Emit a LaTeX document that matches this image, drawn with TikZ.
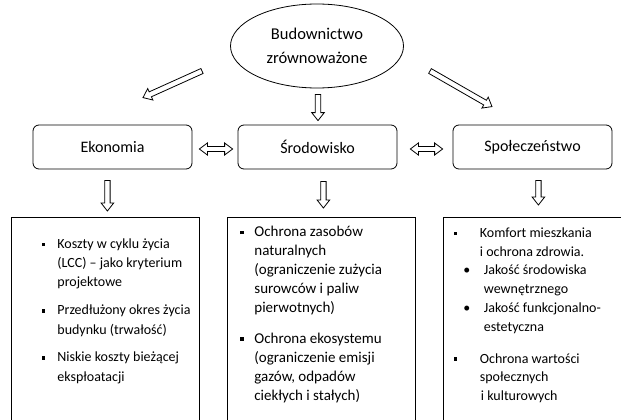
\documentclass[tikz,border=0pt]{standalone}
\usepackage{fontspec}
\setmainfont{Carlito}
\usetikzlibrary{calc,shapes.geometric}

\newcommand{\sqbul}[1]{\makebox[#1][l]{\rule[2.3pt]{3.5pt}{3.5pt}}}
\newcommand{\rdbul}[1]{\makebox[#1][l]{\hspace*{-0.5pt}•}}

\begin{document}
\begin{tikzpicture}[x=1pt,y=-1pt,line width=0.8pt,
  topbox/.style={draw,rounded corners=6pt,minimum width=159,minimum height=44,inner sep=0pt,font=\fontsize{16}{19}\selectfont},
  lowbox/.style={draw,anchor=north west,minimum width=188,minimum height=260,inner sep=0pt},
  lowtext/.style={anchor=base west,inner sep=0pt},
  holo/.style={to path={let \p1=($(\tikztotarget)-(\tikztostart)$),
      \n1={veclen(\x1,\y1)}, \n2={atan2(\y1,\x1)}, \n3={\n1-8} in
      {[shift={(\tikztostart)},rotate=\n2]
       (0,2.7) -- (\n3,2.7) -- (\n3,6.3) -- (\n1,0) -- (\n3,-6.3) -- (\n3,-2.7) -- (0,-2.7) -- cycle}}},
  dholo/.style={to path={let \p1=($(\tikztotarget)-(\tikztostart)$),
      \n1={veclen(\x1,\y1)}, \n2={atan2(\y1,\x1)}, \n3={\n1-8} in
      {[shift={(\tikztostart)},rotate=\n2]
       (0,0) -- (8,6) -- (8,2.5) -- (\n3,2.5) -- (\n3,6) -- (\n1,0) -- (\n3,-6) -- (\n3,-2.5) -- (8,-2.5) -- (8,-6) -- cycle}}}
]
\useasboundingbox (0,0) rectangle (621,420);
\clip (0,0) rectangle (621,420);

% title ellipse
\node[draw,ellipse,minimum width=173,minimum height=84,inner sep=0pt,align=center,
      font=\fontsize{16.5}{24}\selectfont] (top) at (317,46) {Budownictwo\\zrównoważone};

% three pillars
\node[topbox] (eko) at (112.5,147) {Ekonomia};
\node[topbox] (sro) at (317.5,147) {Środowisko};
\node[topbox] (spo) at (532.5,147) {Społeczeństwo};

% lower boxes
\node[lowbox] (b1) at (11,217) {};
\node[lowbox] (b2) at (227,217) {};
\node[lowbox] (b3) at (443,217) {};

% texts of the lower boxes
\node[lowtext,font=\fontsize{14}{19.2}\selectfont] (t1) at (41.5,248.3) {%
\begin{tabular}[t]{@{}l@{}}
\sqbul{15.5pt}Koszty w cyklu życia\\
\hspace*{15.5pt}(LCC) – jako kryterium\\
\hspace*{15.5pt}projektowe\\[9pt]
\sqbul{15.5pt}Przedłużony okres życia\\
\hspace*{15.5pt}budynku (trwałość)\\[8.5pt]
\sqbul{15.5pt}Niskie koszty bieżącej\\
\hspace*{15.5pt}ekspłoatacji
\end{tabular}};

\node[lowtext,font=\fontsize{15}{19}\selectfont] (t2) at (240,236.5) {%
\begin{tabular}[t]{@{}l@{}}
\sqbul{14pt}Ochrona zasobów\\
\hspace*{14pt}naturalnych\\
\hspace*{14pt}(ograniczenie zużycia\\
\hspace*{14pt}surowców i paliw\\
\hspace*{14pt}pierwotnych)\\[11.5pt]
\sqbul{14pt}Ochrona ekosystemu\\
\hspace*{14pt}(ograniczenie emisji\\
\hspace*{14pt}gazów, odpadów\\
\hspace*{14pt}ciekłych i stałych)
\end{tabular}};

\node[lowtext,font=\fontsize{14}{18.8}\selectfont] (t3) at (453.5,237.3) {%
\begin{tabular}[t]{@{}l@{}}
\sqbul{26pt}Komfort mieszkania\\
\hspace*{26pt}i ochrona zdrowia.\\
\hspace*{10pt}\rdbul{20pt}Jakość środowiska\\
\hspace*{30pt}wewnętrznego\\
\hspace*{10pt}\rdbul{20pt}Jakość funkcjonalno-\\
\hspace*{30pt}estetyczna\\[13pt]
\sqbul{26pt}Ochrona wartości\\
\hspace*{26pt}społecznych\\
\hspace*{27pt}i kulturowych
\end{tabular}};

% arrows from the title
\draw[holo] ($(top.south)+(1,6)$) to ($(sro.north)+(0.5,-4)$);
\draw[holo] ($(top.center)+(-115,25)$) to ($(eko.north)+(30.5,-27)$);
\draw[holo] ($(top.center)+(113,25)$) to ($(spo.north)+(-40.5,-18)$);

% arrows between pillars
\draw[dholo] ($(eko.east)+(7,2)$) to ($(sro.west)+(-5,2)$);
\draw[dholo] ($(sro.east)+(13,2)$) to ($(spo.west)+(-10,2)$);

% arrows down to the lower boxes
\draw[holo] ($(b1.north |- eko.south)+(2,11)$) to ($(b1.north)+(2,-6)$);
\draw[holo] ($(b2.north |- sro.south)+(2,12)$) to ($(b2.north)+(2,-9)$);
\draw[holo] ($(b3.north |- spo.south)+(1,11)$) to ($(b3.north)+(1,-12)$);
\end{tikzpicture}
\end{document}
